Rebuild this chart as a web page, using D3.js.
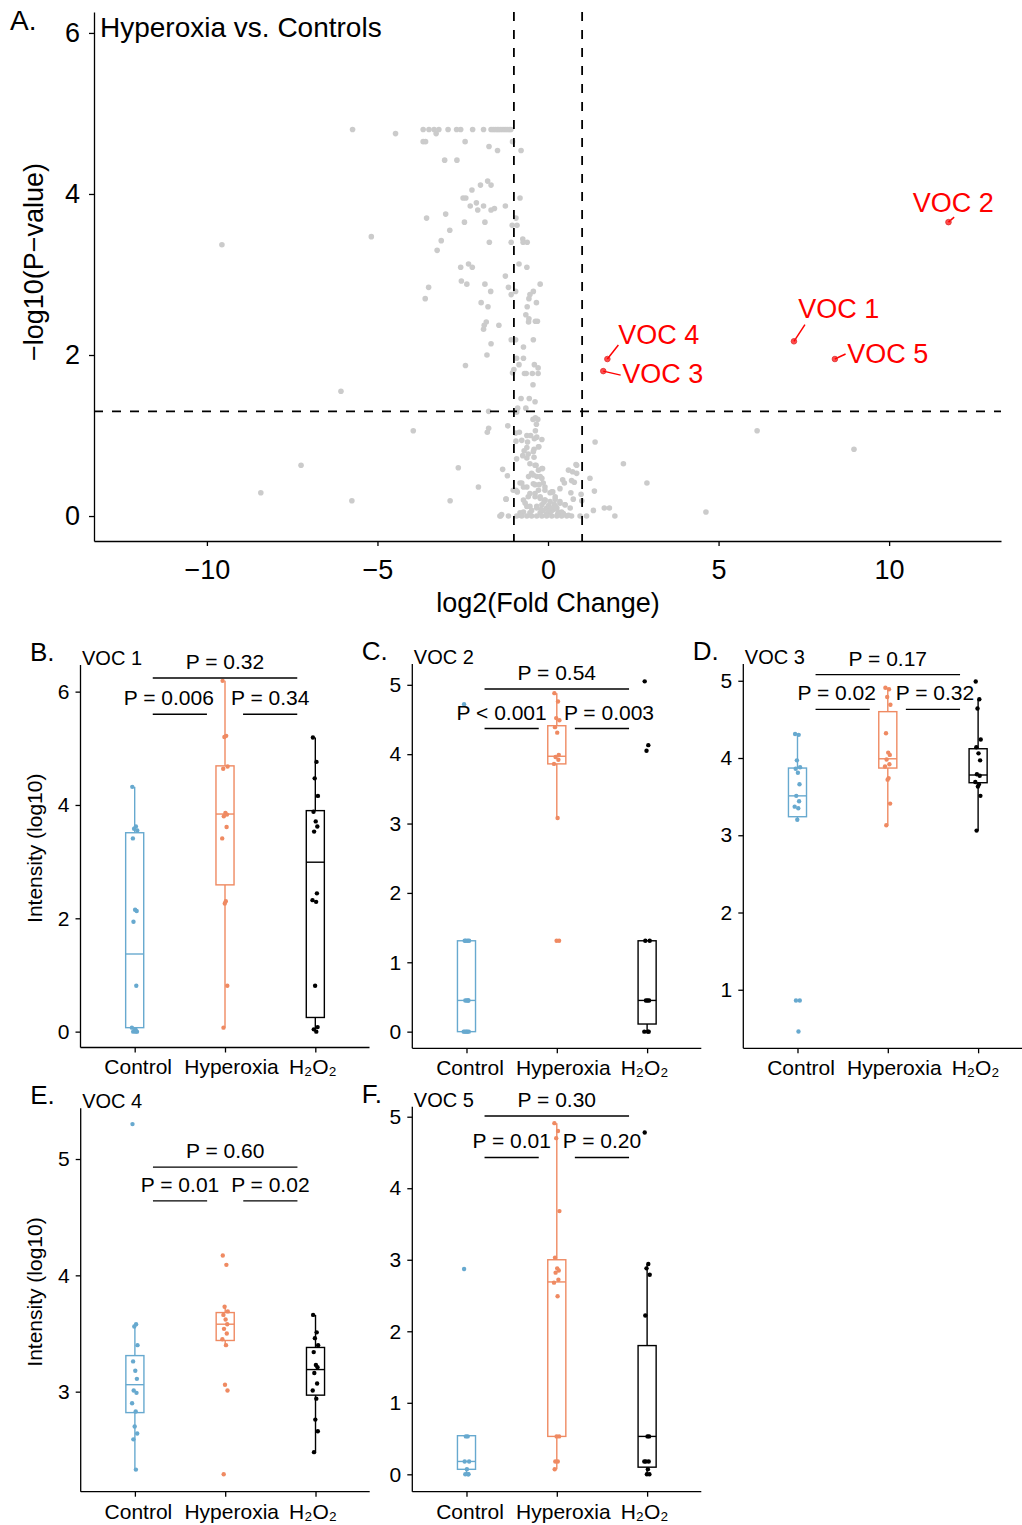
<!DOCTYPE html>
<html>
<head>
<meta charset="utf-8">
<script src="https://cdn.jsdelivr.net/npm/d3@7"></script>
<style>
  body { margin: 0; background: white; }
  svg { font-family: "Liberation Sans", Arial, sans-serif; }
</style>
</head>
<body>
<div id="chart"></div>
<script>
// ---- panel A data: [log2 fold change, -log10 p] ----
var gray_points = [
  [-5.73,4.80],[-4.47,4.75],[-3.66,4.80],[-3.49,4.80],[-3.34,4.80],[-3.20,4.80],[-2.93,4.80],[-2.68,4.80],
  [-2.56,4.80],[-2.21,4.80],[-1.89,4.80],[-1.67,4.80],[-1.61,4.80],[-1.55,4.80],[-1.49,4.80],[-1.44,4.80],
  [-1.38,4.80],[-1.32,4.80],[-1.26,4.80],[-1.20,4.80],[-1.14,4.80],[-1.09,4.80],
  [-3.66,4.65],[-3.59,4.65],[-3.28,4.75],[-2.43,4.65],[-1.04,4.65],[-1.73,4.59],[-1.48,4.54],[-0.79,4.54],
  [-3.03,4.42],[-2.67,4.42],[-1.77,4.16],[-1.98,4.11],[-1.67,4.11],[-2.23,4.05],[-2.49,3.95],[-2.41,3.95],
  [-0.82,3.95],[-2.10,3.89],[-2.28,3.85],[-1.89,3.85],[-1.25,3.85],[-2.06,3.80],[-1.67,3.80],[-1.57,3.82],
  [-3.00,3.75],[-3.56,3.70],[-0.94,3.70],[-2.45,3.65],[-1.85,3.65],[-1.05,3.61],[-0.91,3.61],[-2.88,3.55],
  [-5.18,3.47],[-0.74,3.44],[-3.13,3.42],[-1.72,3.40],[-1.08,3.40],[-0.73,3.40],[-0.61,3.40],[-3.25,3.30],
  [-2.33,3.13],[-0.85,3.13],[-2.56,3.09],[-2.22,3.09],[-0.62,3.09],[-1.25,2.98],[-2.54,2.92],[-2.38,2.88],
  [-1.85,2.88],[-0.23,2.88],[-3.50,2.84],[-1.16,2.84],[-1.68,2.79],[-0.95,2.79],[-0.43,2.79],[-1.08,2.75],
  [-0.53,2.75],[-3.60,2.70],[-0.56,2.70],[-1.96,2.65],[-0.34,2.65],[-1.76,2.60],[-0.61,2.60],
  [-0.65,2.50],[-0.56,2.45],[-0.57,2.41],[-0.37,2.42],[-0.31,2.42],[-1.81,2.41],[-1.87,2.37],[-1.89,2.32],
  [-1.44,2.37],[-1.67,2.14],[-1.79,2.00],[-1.08,2.19],[-0.95,2.19],[-0.43,2.19],[-0.72,2.10],[-0.92,1.96],
  [-0.72,1.96],[-0.85,1.88],[-1.00,1.82],[-1.04,1.78],[-0.40,1.88],[-0.29,1.84],[-0.69,1.77],[-0.64,1.77],
  [-0.46,1.77],[-0.29,1.77],[-2.42,1.87],[-0.44,1.63],[-0.79,1.46],[-0.55,1.46],[-0.38,1.42],[-0.89,1.34],
  [-0.65,1.34],[-0.92,1.29],[-1.74,1.30],[-0.44,1.20],[-0.37,1.22],[-0.30,1.20],[-0.34,1.14],[-1.18,1.12],
  [-1.74,1.09],[-1.78,1.04],[-3.95,1.06],[-0.95,1.03],[-0.84,1.04],[-0.37,1.06],[-0.62,1.00],[-0.51,1.00],
  [-0.33,0.98],
  [-9.56,3.37],[-6.07,1.55],[-7.24,0.63],[-8.42,0.29],[-5.75,0.19],[-2.87,0.19],[-2.63,0.60],[-2.04,0.36],
  [6.13,1.06],[8.97,0.83],[4.63,0.05],[2.90,0.41],[2.21,0.65],[1.38,0.92],[1.96,0.00],[1.23,0.47],
  [1.36,0.31],[1.33,0.07],[1.65,0.10],[1.80,0.10],[0.84,0.63],[0.60,0.57],[0.72,0.55],[0.84,0.53],
  [-0.94,0.93],[-0.77,0.94],[-0.60,0.92],[-0.40,0.96],[-0.18,0.95],[-0.27,0.86],[-0.41,0.83],[-0.62,0.85],
  [-0.70,0.81],[-0.92,0.71],[-0.74,0.75],[-0.58,0.77],[-0.41,0.73],[-0.53,0.65],[-0.35,0.63],[-0.28,0.57],
  [-0.16,0.59],[-0.48,0.53],[-0.57,0.49],[-0.33,0.49],[-0.18,0.47],[-0.77,0.41],[-0.62,0.36],[-0.43,0.40],
  [-0.26,0.39],[-0.09,0.36],[0.14,0.30],[0.43,0.45],[0.48,0.41],[0.69,0.44],[0.77,0.42],[0.82,0.64],
  [0.35,0.34],[0.67,0.29],[0.74,0.21],[0.97,0.27],[0.99,0.19],[-1.02,0.32],[-0.90,0.30],[-1.23,0.21],
  [-0.72,0.20],[-0.58,0.24],[-0.38,0.28],[-0.23,0.24],[-0.09,0.20],[0.06,0.18],[0.21,0.21],[0.35,0.16],
  [0.50,0.14],[0.65,0.10],[-0.62,0.12],[-0.48,0.07],[-0.33,0.12],[-0.18,0.14],[-0.04,0.10],[0.11,0.07],
  [0.26,0.10],[0.40,0.05],[-1.41,0.00],[-1.16,0.00],[-0.92,0.00],[-0.77,0.00],[-0.62,0.00],[-0.48,0.00],
  [-0.33,0.00],[-0.18,0.00],[-0.04,0.00],[0.11,0.00],[0.26,0.00],[0.40,0.00],[0.55,0.00],[0.69,0.00],
  [0.94,0.00],[1.13,0.00],[-1.36,0.02],[-0.82,0.04],[-0.53,0.04],[-0.23,0.04],[0.06,0.04],[0.35,0.04],
  [-1.33,0.58],[-1.19,0.50],[-1.23,0.21],[-1.39,0.00],[-0.82,0.41],[-0.94,0.32],[-0.72,0.36],[-0.53,0.28],
  [-0.38,0.24],[-0.23,0.22],[-0.09,0.20],[0.06,0.29],[0.21,0.24],[0.35,0.18],[0.50,0.14],[-0.67,0.16],
  [-0.53,0.12],[-0.33,0.10],[-0.14,0.07],[0.01,0.05],[0.16,0.08],[0.30,0.05],[0.45,0.03],[0.60,0.01],
  [-0.72,0.05],[-0.82,0.01],[-0.43,0.80],[-0.28,0.86],[-0.62,0.72],[-0.38,0.63],[-0.18,0.59],[-0.43,0.51],
  [-0.23,0.49],[-0.14,0.41],[-0.38,0.39],[-0.28,0.32],[-0.09,0.32],[0.11,0.30],[0.02,0.13],[0.18,0.15],
  [-0.12,0.17],[0.28,0.02],[-0.05,0.02],[0.08,0.10],[-0.20,0.08],[0.22,0.12]
];
var voc_names = ["VOC 1", "VOC 2", "VOC 3", "VOC 4", "VOC 5"];
var voc_fc = [7.21, 11.74, 1.62, 1.74, 8.41];
var voc_logp = [2.17, 3.65, 1.80, 1.95, 1.95];
var fc_cut = [-1, 1];
var p_cut = 1.301;
var volcano_xticks = [-10, -5, 0, 5, 10];
var volcano_yticks = [0, 2, 4, 6];

// ---- panels B-F data ----
var groups = ["Control", "Hyperoxia", "H₂O₂"];

var voc1_points = [
  [4.32, 3.62, 3.58, 3.55, 3.41, 2.15, 2.13, 1.94, 0.81, 0.07, 0.04, 0.02, 0.0, 0.0, 0.0],
  [6.19, 5.22, 5.20, 4.68, 4.64, 3.86, 3.83, 3.80, 3.61, 3.41, 2.30, 2.26, 0.81, 0.07],
  [5.19, 4.76, 4.47, 4.16, 3.88, 3.71, 3.62, 3.53, 2.44, 2.32, 2.29, 0.81, 0.08, 0.04, 0.0]
];
var voc1_box = [[0, 0.07, 1.37, 3.51, 4.32], [0.07, 2.59, 3.84, 4.69, 6.19], [0, 0.25, 2.99, 3.90, 5.19]];
var voc1_p = [["P = 0.006", 0, 1, 5.60], ["P = 0.34", 1, 2, 5.60], ["P = 0.32", 0, 2, 6.24]];

var voc2_points = [
  [4.72, 1.31, 1.31, 1.31, 1.31, 0.45, 0.45, 0.45, 0.45, 0, 0, 0, 0, 0],
  [4.88, 4.76, 4.52, 4.49, 4.39, 4.31, 3.99, 3.96, 3.92, 3.86, 3.08, 1.31, 1.31],
  [5.05, 4.13, 4.05, 1.31, 1.31, 0.45, 0.45, 0.45, 0, 0, 0]
];
var voc2_box = [[0, 0, 0.45, 1.31, 1.31], [3.08, 3.86, 3.97, 4.41, 4.88], [0, 0.11, 0.45, 1.31, 1.31]];
var voc2_p = [["P < 0.001", 0, 1, 4.37], ["P = 0.003", 1, 2, 4.37], ["P = 0.54", 0, 2, 4.94]];

var voc3_points = [
  [4.31, 4.30, 3.97, 3.88, 3.86, 3.81, 3.66, 3.51, 3.44, 3.37, 3.35, 3.20, 0.86, 0.86, 0.46],
  [4.91, 4.89, 4.79, 4.69, 4.32, 4.07, 4.04, 3.98, 3.92, 3.89, 3.74, 3.72, 3.41, 3.13],
  [4.99, 4.76, 4.64, 4.24, 4.14, 4.06, 3.97, 3.79, 3.77, 3.69, 3.66, 3.63, 3.51, 3.06]
];
var voc3_box = [[3.20, 3.24, 3.51, 3.87, 4.31], [3.13, 3.87, 3.99, 4.60, 4.91], [3.06, 3.68, 3.78, 4.12, 4.76]];
var voc3_p = [["P = 0.02", 0, 1, 4.63], ["P = 0.32", 1, 2, 4.63], ["P = 0.17", 0, 2, 5.08]];

var voc4_points = [
  [5.30, 3.58, 3.56, 3.40, 3.26, 3.18, 3.11, 3.01, 2.99, 2.90, 2.83, 2.70, 2.64, 2.59, 2.33],
  [4.17, 4.09, 3.73, 3.69, 3.66, 3.62, 3.58, 3.54, 3.50, 3.45, 3.40, 3.06, 3.01, 2.29],
  [3.66, 3.51, 3.46, 3.40, 3.34, 3.23, 3.21, 3.16, 3.07, 3.01, 2.94, 2.76, 2.66, 2.48]
];
var voc4_box = [[2.33, 2.82, 3.06, 3.31, 3.58], [3.40, 3.44, 3.58, 3.68, 3.73], [2.48, 2.97, 3.19, 3.38, 3.66]];
var voc4_p = [["P = 0.01", 0, 1, 4.64], ["P = 0.02", 1, 2, 4.64], ["P = 0.60", 0, 2, 4.93]];

var voc5_points = [
  [2.87, 0.53, 0.53, 0.18, 0.18, 0.07, 0, 0, 0],
  [4.91, 4.80, 4.70, 3.68, 3.03, 2.88, 2.85, 2.82, 2.72, 2.68, 2.49, 0.53, 0.53, 0.18, 0.18, 0.07],
  [4.78, 2.94, 2.88, 2.79, 2.22, 0.53, 0.53, 0.18, 0.18, 0.18, 0.07, 0, 0]
];
var voc5_box = [[0, 0.07, 0.18, 0.54, 0.54], [0.07, 0.53, 2.69, 3.00, 4.91], [0, 0.10, 0.53, 1.80, 2.94]];
var voc5_p = [["P = 0.01", 0, 1, 4.43], ["P = 0.20", 1, 2, 4.43], ["P = 0.30", 0, 2, 5.01]];

// ---- styling ----
var group_colors = ["#67a9cf", "#ef8a62", "#000000"];
var W = 1022, H = 1525;
var intFormat = d3.format("d");

var svg = d3.select("#chart")
  .append("svg")
  .attr("width", W)
  .attr("height", H)
  .style("background", "white");

function styleAxis(g, fs) {
  g.select(".domain").attr("stroke", "black").attr("stroke-width", 1.3);
  g.selectAll(".tick line").attr("stroke", "black").attr("stroke-width", 1.3);
  g.selectAll(".tick text").attr("fill", "black").style("font-size", fs + "px")
    .style("font-family", '"Liberation Sans", Arial, sans-serif');
}

// ================= panel A: volcano =================
var vx = d3.scaleLinear().domain([-13.31, 13.28]).range([94, 1001]);
var vy = d3.scaleLinear().domain([-0.31, 6.26]).range([541, 12]);

svg.append("text").attr("x", 10).attr("y", 30).style("font-size", "28px").text("A.");

svg.append("g")
  .selectAll("circle")
  .data(gray_points)
  .enter().append("circle")
  .attr("cx", d => vx(d[0]))
  .attr("cy", d => vy(d[1]))
  .attr("r", 2.8)
  .attr("fill", "#cbcbcb");

// cut-off lines
fc_cut.forEach(function (c) {
  svg.append("line")
    .attr("x1", vx(c)).attr("x2", vx(c))
    .attr("y1", 12).attr("y2", 541)
    .attr("stroke", "black").attr("stroke-width", 1.8)
    .attr("stroke-dasharray", "9,9");
});
svg.append("line")
  .attr("x1", 94).attr("x2", 1001)
  .attr("y1", vy(p_cut)).attr("y2", vy(p_cut))
  .attr("stroke", "black").attr("stroke-width", 1.8)
  .attr("stroke-dasharray", "9,9");

// VOC labels (repel offsets in px)
var label_offsets = [[4.3, -23.4], [-35.6, -10.6], [19, 11.7], [11, -15], [12.4, 3.7]];
var segment_ends = [[11, -16.7], [5.7, -5], [17.4, 4], [11, -14], [10.7, -5]];

voc_names.forEach(function (name, i) {
  var px = vx(voc_fc[i]), py = vy(voc_logp[i]);
  svg.append("line")
    .attr("x1", px).attr("y1", py)
    .attr("x2", px + segment_ends[i][0]).attr("y2", py + segment_ends[i][1])
    .attr("stroke", "#ff0000").attr("stroke-width", 1.5);
  svg.append("circle")
    .attr("cx", px).attr("cy", py).attr("r", 2.8)
    .attr("fill", "#ff0000").attr("fill-opacity", 0.7)
    .attr("stroke", "#e03030").attr("stroke-width", 0.8);
  svg.append("text")
    .attr("x", px + label_offsets[i][0])
    .attr("y", py + label_offsets[i][1])
    .attr("fill", "#ff0000")
    .style("font-size", "27px")
    .text(name);
});

var vxa = svg.append("g")
  .attr("transform", "translate(0,541)")
  .call(d3.axisBottom(vx).tickValues(volcano_xticks).tickSize(5).tickSizeOuter(0).tickPadding(14)
    .tickFormat(d => d < 0 ? "\u2212" + Math.abs(d) : intFormat(d)));
styleAxis(vxa, 27);

var vya = svg.append("g")
  .attr("transform", "translate(94,0)")
  .call(d3.axisLeft(vy).tickValues(volcano_yticks).tickSize(5).tickSizeOuter(0).tickPadding(9)
    .tickFormat(intFormat));
styleAxis(vya, 27);

svg.append("text").attr("x", 100).attr("y", 37).style("font-size", "28px").text("Hyperoxia vs. Controls");

svg.append("text")
  .attr("x", 548).attr("y", 612)
  .attr("text-anchor", "middle")
  .style("font-size", "27px")
  .text("log2(Fold Change)");

svg.append("text")
  .attr("transform", "translate(43,262)rotate(-90)")
  .attr("text-anchor", "middle")
  .style("font-size", "27px")
  .text("\u2212log10(P\u2212value)");

// ================= panels B-F: box plots =================
var panels = [
  { letter: "B.", name: "VOC 1", pts: voc1_points, box: voc1_box, pv: voc1_p, left: 80.5, top: 665, bottom: 1047.5, domain: [-0.28, 6.47], ticks: [0, 2, 4, 6], ytitle: true, nudge: [-11, 0, 0] },
  { letter: "C.", name: "VOC 2", pts: voc2_points, box: voc2_box, pv: voc2_p, left: 412.3, top: 664, bottom: 1048.3, domain: [-0.24, 5.30], ticks: [0, 1, 2, 3, 4, 5], ytitle: false, nudge: [-10, 7, 0] },
  { letter: "D.", name: "VOC 3", pts: voc3_points, box: voc3_box, pv: voc3_p, left: 743.3, top: 664, bottom: 1048.3, domain: [0.242, 5.217], ticks: [1, 2, 3, 4, 5], ytitle: false, nudge: [-6, 2, 0] },
  { letter: "E.", name: "VOC 4", pts: voc4_points, box: voc4_box, pv: voc4_p, left: 80.7, top: 1108.3, bottom: 1491.7, domain: [2.14, 5.436], ticks: [3, 4, 5], ytitle: true, nudge: [0, 0, 0] },
  { letter: "F.", name: "VOC 5", pts: voc5_points, box: voc5_box, pv: voc5_p, left: 412.3, top: 1106.7, bottom: 1491.7, domain: [-0.243, 5.14], ticks: [0, 1, 2, 3, 4, 5], ytitle: false, nudge: [0, 0, 0] }
];
var panel_width = 289;
var xlabel_nudge = [3, 6, -3];
var jitter = [-2.4, 1.2, -0.6, 2.6, -1.8, 0.4, 2.0, -1.2, 1.6, -2.8, 0.8, -0.2, 2.3, -1.5, 1.0, -2.1];

panels.forEach(function (p) {
  var right = p.left + panel_width;
  var x = d3.scalePoint().domain(groups).range([p.left, right]).padding(0.6);
  var step = x.step();
  var y = d3.scaleLinear().domain(p.domain).range([p.bottom, p.top]);
  var g = svg.append("g");

  g.append("text").attr("x", p.left - 50.5).attr("y", p.top - 4)
    .style("font-size", "26px").text(p.letter);
  g.append("text").attr("x", p.left + 1.5).attr("y", p.top)
    .style("font-size", "20px").text(p.name);

  // boxes
  groups.forEach(function (grp, k) {
    var b = p.box[k], cx = x(grp), hw = step * 0.1, col = group_colors[k];
    g.append("line").attr("x1", cx).attr("x2", cx).attr("y1", y(b[4])).attr("y2", y(b[3]))
      .attr("stroke", col).attr("stroke-width", 1.4);
    g.append("line").attr("x1", cx).attr("x2", cx).attr("y1", y(b[1])).attr("y2", y(b[0]))
      .attr("stroke", col).attr("stroke-width", 1.4);
    g.append("rect").attr("x", cx - hw).attr("width", 2 * hw)
      .attr("y", y(b[3])).attr("height", Math.max(0.5, y(b[1]) - y(b[3])))
      .attr("fill", "white").attr("stroke", col).attr("stroke-width", 1.4);
    g.append("line").attr("x1", cx - hw).attr("x2", cx + hw).attr("y1", y(b[2])).attr("y2", y(b[2]))
      .attr("stroke", col).attr("stroke-width", 1.4);

    g.append("g").selectAll("circle")
      .data(p.pts[k])
      .enter().append("circle")
      .attr("cx", (d, i) => cx + jitter[i % jitter.length])
      .attr("cy", d => y(d))
      .attr("r", 2.2)
      .attr("fill", col);
  });

  // p-value brackets
  p.pv.forEach(function (s, i) {
    var x1 = x(groups[s[1]]) + step * 0.2, x2 = x(groups[s[2]]) - step * 0.2;
    g.append("line").attr("x1", x1).attr("x2", x2).attr("y1", y(s[3])).attr("y2", y(s[3]))
      .attr("stroke", "black").attr("stroke-width", 1.4);
    g.append("text").attr("x", (x1 + x2) / 2 + p.nudge[i]).attr("y", y(s[3]) - 9)
      .attr("text-anchor", "middle").style("font-size", "21px").text(s[0]);
  });

  var xa = g.append("g").attr("transform", "translate(0," + p.bottom + ")")
    .call(d3.axisBottom(x).tickSize(5).tickSizeOuter(0).tickPadding(7));
  xa.select(".domain").attr("d", "M" + p.left + ",0H" + right);
  styleAxis(xa, 21);
  xa.selectAll(".tick text").attr("dx", (d, i) => xlabel_nudge[i]);

  var ya = g.append("g").attr("transform", "translate(" + p.left + ",0)")
    .call(d3.axisLeft(y).tickValues(p.ticks).tickSize(5).tickSizeOuter(0).tickPadding(6)
      .tickFormat(intFormat));
  ya.select(".domain").attr("d", "M0," + p.top + "V" + p.bottom);
  styleAxis(ya, 21);

  if (p.ytitle) {
    g.append("text")
      .attr("transform", "translate(42," + ((p.top + p.bottom) / 2 - 8) + ")rotate(-90)")
      .attr("text-anchor", "middle")
      .style("font-size", "21px")
      .text("Intensity (log10)");
  }
});
</script>
</body>
</html>
